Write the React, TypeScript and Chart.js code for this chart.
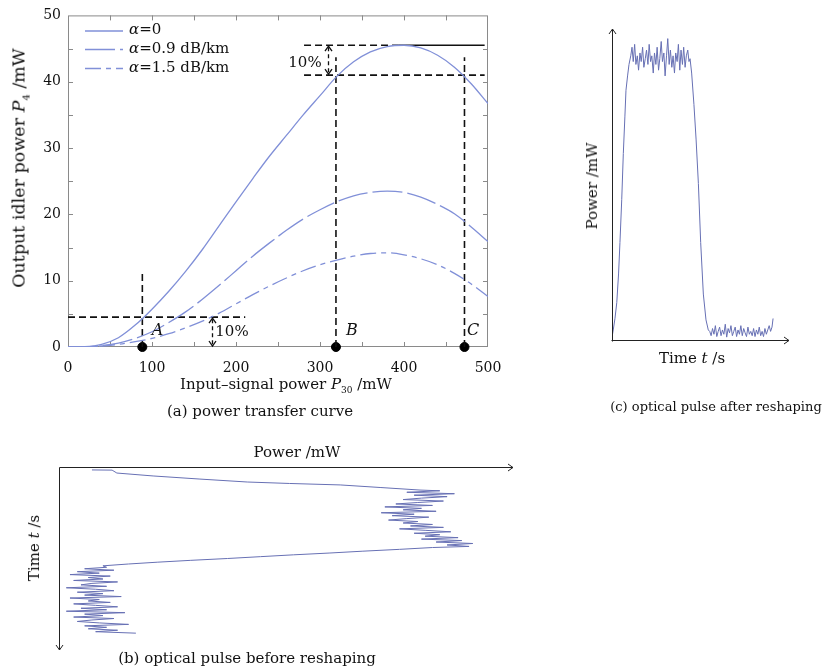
import React, { useEffect, useRef } from 'react';
import { Chart, registerables } from 'chart.js';

Chart.register(...registerables);

const SERIF = "'DejaVu Serif', serif";
const CURVE_COLOR = '#8190d8';
const PULSE_COLOR = '#6770b4';
const GUIDE_COLOR = '#111111';

// ---------- (a) power transfer curve ----------
const inputPower = [0, 20, 40, 60, 80, 100, 120, 140, 160, 180, 200, 220, 240, 260, 280, 300, 320, 340, 360, 380, 400, 420, 440, 460, 480, 500];
const idlerAlpha0 = [0, 0.05, 0.4, 1.4, 3.3, 5.7, 8.4, 11.4, 14.7, 18.3, 21.9, 25.4, 28.8, 31.9, 35.0, 37.9, 40.8, 43.0, 44.5, 45.3, 45.5, 45.1, 44.0, 42.2, 39.7, 36.7];
const idlerAlpha09 = [0, 0.03, 0.2, 0.6, 1.3, 2.3, 3.7, 5.3, 7.2, 9.3, 11.5, 13.7, 15.7, 17.6, 19.3, 20.7, 21.9, 22.8, 23.3, 23.5, 23.3, 22.6, 21.5, 20.1, 18.1, 15.9];
const idlerAlpha15 = [0, 0.02, 0.15, 0.4, 0.8, 1.3, 2.0, 2.9, 3.9, 5.1, 6.5, 7.9, 9.2, 10.4, 11.5, 12.4, 13.1, 13.7, 14.1, 14.2, 13.9, 13.3, 12.4, 11.1, 9.5, 7.6];
const seriesLabels = ['α=0', 'α=0.9 dB/km', 'α=1.5 dB/km'];

const xMinorTicks = [50, 100, 150, 200, 250, 300, 350, 400, 450];
const yMinorTicks = [5, 10, 15, 20, 25, 30, 35, 40, 45];

const markerInputs = [88.5, 319, 472];
const markerNames = ['A', 'B', 'C'];

const guideA = [[88.5, 0], [88.5, 11.6]];
const guideLow = [[0, 4.5], [211, 4.5]];
const guideB = [[319, 0], [319, 43.7]];
const guideC = [[472, 0], [472, 43.7]];
const guideNinety = [[281, 41], [496, 41]];
const guidePeakDashed = [[281, 45.5], [393, 45.5]];
const guidePeakSolid = [[393, 45.5], [496, 45.5]];
const arrowLow = [171.6, 4.5, 0];
const arrowHigh = [309, 45.5, 41];

// ---------- (c) optical pulse after reshaping: [time, power] ----------
const afterRise = [[0.03, 0.02], [0.07, 0.035], [0.17, 0.076], [0.27, 0.13], [0.37, 0.23], [0.45, 0.34], [0.55, 0.49], [0.64, 0.65], [0.73, 0.78], [0.79, 0.87], [0.88, 0.92], [0.96, 0.96], [1.06, 0.99]];
const afterTop = [[1.13, 1.02], [1.20, 0.97], [1.28, 1.03], [1.35, 0.96], [1.43, 0.99], [1.50, 0.94], [1.58, 1.00], [1.65, 0.97], [1.73, 1.02], [1.80, 0.95], [1.88, 0.98], [1.95, 1.01], [2.03, 0.96], [2.10, 1.03], [2.18, 0.97], [2.25, 0.99], [2.33, 0.93], [2.40, 1.00], [2.48, 0.96], [2.55, 1.02], [2.63, 0.94], [2.70, 0.98], [2.78, 1.04], [2.85, 0.97], [2.93, 1.00], [3.00, 0.92], [3.08, 0.99], [3.15, 1.05], [3.23, 0.96], [3.30, 1.01], [3.38, 0.95], [3.45, 0.99], [3.53, 0.93], [3.60, 1.00], [3.68, 0.97], [3.75, 1.03], [3.83, 0.94], [3.90, 1.01], [3.98, 0.96], [4.05, 1.02], [4.13, 0.95], [4.20, 0.99], [4.28, 1.01], [4.35, 0.97]];
const afterFall = [[4.41, 0.98], [4.50, 0.93], [4.63, 0.82], [4.75, 0.70], [4.88, 0.545], [5.01, 0.34], [5.16, 0.16], [5.31, 0.07], [5.44, 0.035]];
const afterBase = [[5.52, 0.03], [5.60, 0.015], [5.68, 0.04], [5.76, 0.02], [5.84, 0.05], [5.92, 0.012], [6.00, 0.03], [6.08, 0.045], [6.16, 0.015], [6.24, 0.035], [6.32, 0.02], [6.40, 0.055], [6.48, 0.01], [6.56, 0.04], [6.64, 0.025], [6.72, 0.05], [6.80, 0.015], [6.88, 0.03], [6.96, 0.045], [7.04, 0.012], [7.12, 0.035], [7.20, 0.02], [7.28, 0.05], [7.36, 0.015], [7.44, 0.04], [7.52, 0.025], [7.60, 0.012], [7.68, 0.045], [7.76, 0.02], [7.84, 0.03], [7.92, 0.015], [8.00, 0.04], [8.08, 0.012], [8.16, 0.035], [8.24, 0.02], [8.32, 0.045], [8.40, 0.015], [8.48, 0.03], [8.56, 0.012], [8.64, 0.04], [8.72, 0.02], [8.80, 0.035], [8.88, 0.05], [8.96, 0.03], [9.04, 0.045], [9.10, 0.075]];

// ---------- (b) optical pulse before reshaping: [time, power] ----------
const beforeRise = [[0.16, 0.09], [0.17, 0.145], [0.33, 0.158], [0.49, 0.257], [0.66, 0.385], [0.82, 0.514], [0.90, 0.63], [0.98, 0.768], [1.12, 0.877], [1.26, 0.986]];
const beforeTop = [[1.30, 1.04], [1.38, 0.95], [1.46, 1.08], [1.54, 0.97], [1.62, 1.06], [1.70, 0.99], [1.78, 0.94], [1.86, 1.05], [1.94, 0.98], [2.02, 0.92], [2.10, 1.02], [2.18, 0.89], [2.26, 0.99], [2.34, 0.94], [2.42, 1.03], [2.50, 0.88], [2.58, 0.97], [2.66, 0.91], [2.74, 1.01], [2.82, 0.95], [2.90, 0.90], [2.98, 0.98], [3.06, 0.94], [3.14, 1.02], [3.22, 0.96], [3.30, 1.05], [3.38, 0.93], [3.46, 1.00], [3.54, 1.07], [3.62, 0.97], [3.70, 1.04], [3.78, 1.00], [3.86, 1.09], [3.94, 0.99], [4.02, 1.10], [4.10, 1.03], [4.18, 1.13], [4.26, 1.06], [4.34, 1.12]];
const beforeFall = [[4.40, 1.02], [4.50, 0.93], [4.60, 0.83], [4.70, 0.74], [4.80, 0.64], [4.90, 0.55], [5.00, 0.46], [5.10, 0.36], [5.20, 0.27], [5.30, 0.19], [5.40, 0.12]];
const beforeBase = [[5.48, 0.13], [5.56, 0.07], [5.64, 0.15], [5.72, 0.05], [5.80, 0.11], [5.88, 0.03], [5.96, 0.14], [6.04, 0.08], [6.12, 0.12], [6.20, 0.04], [6.28, 0.16], [6.36, 0.09], [6.44, 0.06], [6.52, 0.13], [6.60, 0.02], [6.68, 0.10], [6.76, 0.15], [6.84, 0.05], [6.92, 0.12], [7.00, 0.07], [7.08, 0.17], [7.16, 0.03], [7.24, 0.11], [7.32, 0.08], [7.40, 0.14], [7.48, 0.04], [7.56, 0.10], [7.64, 0.16], [7.72, 0.06], [7.80, 0.13], [7.88, 0.02], [7.96, 0.18], [8.04, 0.07], [8.12, 0.12], [8.20, 0.04], [8.28, 0.15], [8.36, 0.09], [8.44, 0.05], [8.52, 0.11], [8.60, 0.19], [8.68, 0.07], [8.76, 0.13], [8.84, 0.08], [8.92, 0.16], [9.00, 0.10], [9.08, 0.21]];

// ---------- helpers ----------
const toXY = (pairs: number[][]) => pairs.map(([x, y]) => ({ x, y }));

function chevron(ctx: CanvasRenderingContext2D, x: number, y: number, dir: 'up' | 'down' | 'right', size = 5, half = 3.5) {
  ctx.beginPath();
  if (dir === 'up') { ctx.moveTo(x - half, y + size); ctx.lineTo(x, y); ctx.lineTo(x + half, y + size); }
  if (dir === 'down') { ctx.moveTo(x - half, y - size); ctx.lineTo(x, y); ctx.lineTo(x + half, y - size); }
  if (dir === 'right') { ctx.moveTo(x - size, y - half); ctx.lineTo(x, y); ctx.lineTo(x - size, y + half); }
  ctx.stroke();
}

const frameTicksPlugin = {
  id: 'frameTicks',
  beforeDatasetsDraw(chart: any) {
    const { ctx, chartArea: a, scales } = chart;
    const xs = scales.x, ys = scales.y;
    ctx.save();
    ctx.strokeStyle = '#8a8a8a';
    ctx.lineWidth = 1;
    ctx.strokeRect(a.left + 0.5, a.top + 0.5, a.right - a.left - 1, a.bottom - a.top - 1);
    ctx.beginPath();
    xMinorTicks.forEach((v) => {
      const px = Math.round(xs.getPixelForValue(v)) + 0.5;
      ctx.moveTo(px, a.bottom); ctx.lineTo(px, a.bottom - 5);
      ctx.moveTo(px, a.top); ctx.lineTo(px, a.top + 5);
    });
    yMinorTicks.forEach((v) => {
      const py = Math.round(ys.getPixelForValue(v)) + 0.5;
      ctx.moveTo(a.left, py); ctx.lineTo(a.left + 5, py);
      ctx.moveTo(a.right, py); ctx.lineTo(a.right - 5, py);
    });
    ctx.stroke();
    ctx.restore();
  },
};

const levelArrowPlugin = {
  id: 'levelArrows',
  afterDatasetsDraw(chart: any) {
    const { ctx, scales } = chart;
    const xs = scales.x, ys = scales.y;
    ctx.save();
    ctx.strokeStyle = GUIDE_COLOR;
    ctx.lineWidth = 1.3;
    [arrowLow, arrowHigh].forEach(([xv, y1, y2]) => {
      const px = Math.round(xs.getPixelForValue(xv)) + 0.5;
      const top = ys.getPixelForValue(y1);
      const bot = ys.getPixelForValue(y2);
      ctx.setLineDash([4, 3]);
      ctx.beginPath(); ctx.moveTo(px, top + 2); ctx.lineTo(px, bot - 2); ctx.stroke();
      ctx.setLineDash([]);
      chevron(ctx, px, top + 1, 'up', 5, 3.5);
      chevron(ctx, px, bot - 1, 'down', 5, 3.5);
    });
    ctx.restore();
  },
};

const makeAxesArrowPlugin = (mode: 'c' | 'b') => ({
  id: 'axesArrows' + mode,
  afterDraw(chart: any) {
    const { ctx, chartArea: a } = chart;
    ctx.save();
    ctx.strokeStyle = '#222';
    ctx.lineWidth = 1;
    if (mode === 'c') {
      const x0 = Math.round(a.left) + 0.5, y0 = Math.round(a.bottom) + 0.5;
      ctx.beginPath(); ctx.moveTo(x0, y0 + 1); ctx.lineTo(x0, a.top - 1); ctx.stroke();
      ctx.beginPath(); ctx.moveTo(x0 - 1, y0); ctx.lineTo(a.right, y0); ctx.stroke();
      chevron(ctx, x0, a.top - 1, 'up', 5, 3.5);
      chevron(ctx, a.right, y0, 'right', 5, 3.5);
    } else {
      const x0 = Math.round(a.left) + 0.5, y0 = Math.round(a.top) + 0.5;
      ctx.beginPath(); ctx.moveTo(x0, y0); ctx.lineTo(a.right, y0); ctx.stroke();
      ctx.beginPath(); ctx.moveTo(x0, y0); ctx.lineTo(x0, a.bottom); ctx.stroke();
      chevron(ctx, a.right, y0, 'right', 5, 3.5);
      chevron(ctx, x0, a.bottom, 'down', 5, 3.5);
    }
    ctx.restore();
  },
});

function buildA(): any {
  const curve = (label: string, ys: number[], dash: number[]) => ({
    label,
    data: inputPower.map((x, i) => ({ x, y: ys[i] })),
    borderColor: CURVE_COLOR,
    borderWidth: 1.3,
    borderDash: dash,
    showLine: true,
    pointRadius: 0,
    cubicInterpolationMode: 'monotone',
  });
  const guide = (pairs: number[][], dash: number[]) => ({
    data: toXY(pairs),
    borderColor: GUIDE_COLOR,
    borderWidth: 1.6,
    borderDash: dash,
    showLine: true,
    pointRadius: 0,
    tension: 0,
  });
  return {
    type: 'scatter',
    data: {
      datasets: [
        curve(seriesLabels[0], idlerAlpha0, []),
        curve(seriesLabels[1], idlerAlpha09, [30, 5]),
        curve(seriesLabels[2], idlerAlpha15, [16, 5, 5, 5]),
        guide(guideA, [7, 4]),
        guide(guideLow, [7, 4]),
        guide(guideB, [7, 4]),
        guide(guideC, [7, 4]),
        guide(guideNinety, [7, 4]),
        guide(guidePeakDashed, [7, 4]),
        guide(guidePeakSolid, []),
        {
          data: markerInputs.map((x) => ({ x, y: 0 })),
          pointRadius: 4.5,
          pointBackgroundColor: '#000',
          pointBorderColor: '#000',
          showLine: false,
          clip: false,
        },
      ],
    },
    options: {
      animation: false,
      responsive: false,
      events: [],
      layout: { padding: { left: 0, top: 15, right: 52, bottom: 23 } },
      plugins: { legend: { display: false }, tooltip: { enabled: false } },
      scales: {
        x: {
          type: 'linear', min: 0, max: 500,
          ticks: { stepSize: 100, font: { family: SERIF, size: 14 }, color: '#111', padding: 13, maxRotation: 0 },
          grid: { display: false, drawTicks: false },
          border: { display: false },
          afterFit: (s: any) => { s.height = 30; },
        },
        y: {
          type: 'linear', min: 0, max: 50,
          ticks: { stepSize: 10, font: { family: SERIF, size: 14 }, color: '#111', padding: 7 },
          grid: { display: false, drawTicks: false },
          border: { display: false },
          afterFit: (s: any) => { s.width = 68; },
        },
      },
    },
    plugins: [frameTicksPlugin, levelArrowPlugin],
  };
}

function buildC(): any {
  return {
    type: 'scatter',
    data: {
      datasets: [{
        data: toXY([...afterRise, ...afterTop, ...afterFall, ...afterBase]),
        borderColor: PULSE_COLOR, borderWidth: 1, showLine: true, pointRadius: 0, tension: 0,
      }],
    },
    options: {
      animation: false, responsive: false, events: [],
      layout: { padding: { left: 22, top: 20, right: 37, bottom: 20 } },
      plugins: { legend: { display: false }, tooltip: { enabled: false } },
      scales: {
        x: { type: 'linear', min: 0, max: 10, display: false },
        y: { type: 'linear', min: 0, max: 1.08, display: false },
      },
    },
    plugins: [makeAxesArrowPlugin('c')],
  };
}

function buildB(): any {
  const pairs = [...beforeRise, ...beforeTop, ...beforeFall, ...beforeBase];
  return {
    type: 'scatter',
    data: {
      datasets: [{
        data: pairs.map(([t, p]) => ({ x: p, y: t })),
        borderColor: PULSE_COLOR, borderWidth: 1, showLine: true, pointRadius: 0, tension: 0,
      }],
    },
    options: {
      animation: false, responsive: false, events: [],
      layout: { padding: { left: 19, top: 7, right: 17, bottom: 10 } },
      plugins: { legend: { display: false }, tooltip: { enabled: false } },
      scales: {
        x: { type: 'linear', min: 0, max: 1.24, display: false },
        y: { type: 'linear', min: 0, max: 10, reverse: true, display: false },
      },
    },
    plugins: [makeAxesArrowPlugin('b')],
  };
}

function ChartCanvas({ left, top, width, height, build }: any) {
  const ref = useRef<HTMLCanvasElement>(null);
  useEffect(() => {
    const chart = new Chart(ref.current as HTMLCanvasElement, build());
    return () => chart.destroy();
  }, []);
  return (
    <canvas ref={ref} width={width} height={height}
      style={{ position: 'absolute', left, top, width, height }} />
  );
}

function Label({ x, y, size = 15, rotate = 0, italic = false, children }: any) {
  return (
    <div style={{
      position: 'absolute', left: x, top: y,
      transform: `translate(-50%, -50%) rotate(${rotate}deg)`,
      whiteSpace: 'nowrap', fontSize: size, lineHeight: 1.2,
      fontStyle: italic ? 'italic' : 'normal', color: '#111',
    }}>{children}</div>
  );
}

const subStyle: any = { fontSize: 9, verticalAlign: 'baseline', position: 'relative', top: 4 };
const subStyleLarge: any = { fontSize: 10, verticalAlign: 'baseline', position: 'relative', top: 5 };

function Legend() {
  const rows = [
    { dash: '', y: 31 },
    { dash: '30 5', y: 49.5 },
    { dash: '16 5 5 5', y: 68.5 },
  ];
  return (
    <>
      <svg style={{ position: 'absolute', left: 85, top: 18, overflow: 'visible' }} width={40} height={60}>
        {rows.map((r, i) => (
          <line key={i} x1={0} x2={38} y1={r.y - 18} y2={r.y - 18} stroke={CURVE_COLOR}
            strokeWidth={1.3} strokeDasharray={r.dash || undefined} />
        ))}
      </svg>
      {seriesLabels.map((lab, i) => (
        <div key={i} style={{
          position: 'absolute', left: 129, top: rows[i].y - 2, transform: 'translateY(-50%)',
          fontSize: 15, whiteSpace: 'nowrap', color: '#111',
        }}>
          <i>{lab.slice(0, 1)}</i>{lab.slice(1)}
        </div>
      ))}
    </>
  );
}

export default function App() {
  const markerLabelPos = [[157.5, 329.5], [352, 329.5], [473, 329.5]];
  return (
    <div style={{ position: 'absolute', left: 0, top: 0, width: 826, height: 668, background: '#fff', fontFamily: SERIF, overflow: 'hidden' }}>
      <ChartCanvas left={0} top={0} width={540} height={400} build={buildA} />
      <ChartCanvas left={590} top={10} width={236} height={350} build={buildC} />
      <ChartCanvas left={40} top={460} width={490} height={200} build={buildB} />

      {/* (a) texts */}
      <Legend />
      <Label x={19} y={168} size={17.5} rotate={-90}>Output idler power <i>P</i><span style={subStyleLarge}>4</span> /mW</Label>
      <Label x={286} y={384}>Input–signal power <i>P</i><span style={subStyle}>30</span> /mW</Label>
      <Label x={260} y={411}>(a) power transfer curve</Label>
      {markerNames.map((n, i) => (
        <Label key={n} x={markerLabelPos[i][0]} y={markerLabelPos[i][1]} size={16} italic>{n}</Label>
      ))}
      <Label x={232} y={331}>10%</Label>
      <Label x={305} y={61.5}>10%</Label>

      {/* (c) texts */}
      <Label x={592} y={186} rotate={-90}>Power /mW</Label>
      <Label x={692} y={358}>Time <i>t</i> /s</Label>
      <Label x={716} y={407} size={13}>(c) optical pulse after reshaping</Label>

      {/* (b) texts */}
      <Label x={297} y={452}>Power /mW</Label>
      <Label x={34} y={548} rotate={-90}>Time <i>t</i> /s</Label>
      <Label x={247} y={658}>(b) optical pulse before reshaping</Label>
    </div>
  );
}
